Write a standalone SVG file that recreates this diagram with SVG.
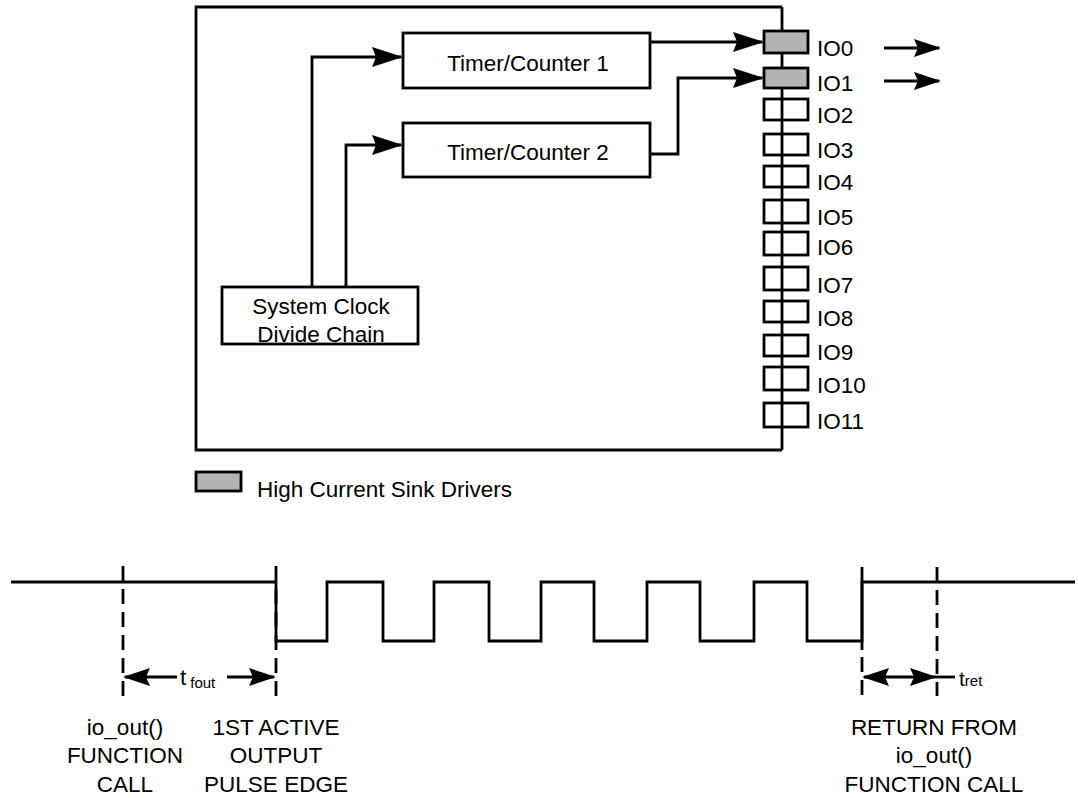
<svg xmlns="http://www.w3.org/2000/svg" width="1078" height="798" viewBox="0 0 1078 798">
<style>
  .ln{fill:none;stroke:#000;stroke-width:2.8;stroke-linejoin:miter}
  .box{fill:#fff;stroke:#000;stroke-width:2.8}
  .io{fill:none;stroke:#000;stroke-width:2.8}
  .hc{fill:#b3b3b3;stroke:#000;stroke-width:2.8}
  .dash{fill:none;stroke:#000;stroke-width:2.8;stroke-dasharray:15 8}
  .t{font-family:"Liberation Sans",Arial,sans-serif;font-size:22.5px;fill:#000}
  .c{text-anchor:middle}
  .s{font-size:15px}
</style>
<defs>
  <marker id="ah" markerUnits="userSpaceOnUse" viewBox="0 0 31 22" refX="29" refY="11" markerWidth="31" markerHeight="22" orient="auto-start-reverse">
    <path d="M0,1 L31,11 L0,21 L4,11 Z" fill="#000"/>
  </marker>
  <marker id="ahs" markerUnits="userSpaceOnUse" viewBox="0 0 27 20" refX="25" refY="10" markerWidth="27" markerHeight="20" orient="auto-start-reverse">
    <path d="M0,1 L27,10 L0,19 L4,10 Z" fill="#000"/>
  </marker>
</defs>
<rect width="1078" height="798" fill="#fff"/>

<g id="main-box">
  <path class="ln" d="M782,7 H196 V450 H782"/>
  <line class="ln" x1="782" y1="7" x2="782" y2="450"/>
</g>

<g id="connectors">
  <path class="ln" d="M312,287 V57 H401" marker-end="url(#ah)"/>
  <path class="ln" d="M346,287 V145 H401" marker-end="url(#ah)"/>
  <path class="ln" d="M650,42 H762" marker-end="url(#ah)"/>
  <path class="ln" d="M650,154 H678 V78 H762" marker-end="url(#ah)"/>
  <line class="ln" x1="884" y1="48" x2="939" y2="48" marker-end="url(#ahs)"/>
  <line class="ln" x1="884" y1="81" x2="939" y2="81" marker-end="url(#ahs)"/>
</g>

<g id="tc1">
  <rect class="box" x="403" y="33" width="247" height="55"/>
  <text class="t c" x="528" y="71">Timer/Counter 1</text>
</g>
<g id="tc2">
  <rect class="box" x="403" y="123" width="247" height="54"/>
  <text class="t c" x="528" y="160">Timer/Counter 2</text>
</g>
<g id="clock">
  <rect class="box" x="222" y="287" width="196" height="57"/>
  <text class="t c" x="321" y="314">System Clock</text>
  <text class="t c" x="321" y="342">Divide Chain</text>
</g>

<g id="io0"><rect class="hc" x="764" y="31" width="44" height="22"/><text class="t" x="817" y="56">IO0</text></g>
<g id="io1"><rect class="hc" x="764" y="68" width="44" height="20"/><text class="t" x="817" y="91">IO1</text></g>
<g id="io2"><rect class="io" x="764" y="99" width="44" height="21"/><text class="t" x="817" y="123">IO2</text></g>
<g id="io3"><rect class="io" x="764" y="134" width="44" height="21"/><text class="t" x="817" y="158">IO3</text></g>
<g id="io4"><rect class="io" x="764" y="166" width="44" height="21"/><text class="t" x="817" y="190">IO4</text></g>
<g id="io5"><rect class="io" x="764" y="200" width="44" height="23"/><text class="t" x="817" y="225">IO5</text></g>
<g id="io6"><rect class="io" x="764" y="232" width="44" height="23"/><text class="t" x="817" y="255">IO6</text></g>
<g id="io7"><rect class="io" x="764" y="267" width="44" height="23"/><text class="t" x="817" y="293">IO7</text></g>
<g id="io8"><rect class="io" x="764" y="301" width="44" height="21"/><text class="t" x="817" y="326">IO8</text></g>
<g id="io9"><rect class="io" x="764" y="335" width="44" height="21"/><text class="t" x="817" y="360">IO9</text></g>
<g id="io10"><rect class="io" x="764" y="367" width="44" height="23"/><text class="t" x="817" y="393">IO10</text></g>
<g id="io11"><rect class="io" x="764" y="403" width="44" height="24"/><text class="t" x="817" y="429">IO11</text></g>

<g id="legend">
  <rect class="hc" x="196" y="472" width="45" height="19"/>
  <text class="t" x="257" y="497">High Current Sink Drivers</text>
</g>

<g id="timing">
  <path class="ln" d="M11,582 H276 V641 H327 V582 H383 V641 H434 V582 H489 V641 H541 V582 H594 V641 H647 V582 H700 V641 H754 V582 H807 V641 H862 V582 H1075"/>
  <line class="ln" x1="862" y1="567" x2="862" y2="650"/>
  <line class="dash" x1="123" y1="566" x2="123" y2="703"/>
  <line class="dash" x1="276" y1="566" x2="276" y2="703"/>
  <line class="dash" x1="862" y1="657" x2="862" y2="696"/>
  <line class="dash" x1="937" y1="567" x2="937" y2="696"/>
  <line class="ln" x1="125" y1="677" x2="177" y2="677" marker-start="url(#ahs)"/>
  <line class="ln" x1="227" y1="677" x2="274" y2="677" marker-end="url(#ahs)"/>
  <text class="t" x="180" y="685">t<tspan class="s" dx="4" dy="3">fout</tspan></text>
  <line class="ln" x1="864" y1="677" x2="935" y2="677" marker-start="url(#ahs)" marker-end="url(#ahs)"/>
  <line class="ln" x1="935" y1="677" x2="955" y2="677"/>
  <text class="t" x="959" y="686" style="font-size:21px">t<tspan class="s">ret</tspan></text>
  <text class="t c" x="125" y="735">io_out()</text>
  <text class="t c" x="125" y="763">FUNCTION</text>
  <text class="t c" x="125" y="792">CALL</text>
  <text class="t c" x="276" y="735">1ST ACTIVE</text>
  <text class="t c" x="276" y="763">OUTPUT</text>
  <text class="t c" x="276" y="792">PULSE EDGE</text>
  <text class="t c" x="934" y="735">RETURN FROM</text>
  <text class="t c" x="934" y="763">io_out()</text>
  <text class="t c" x="934" y="792">FUNCTION CALL</text>
</g>
</svg>
